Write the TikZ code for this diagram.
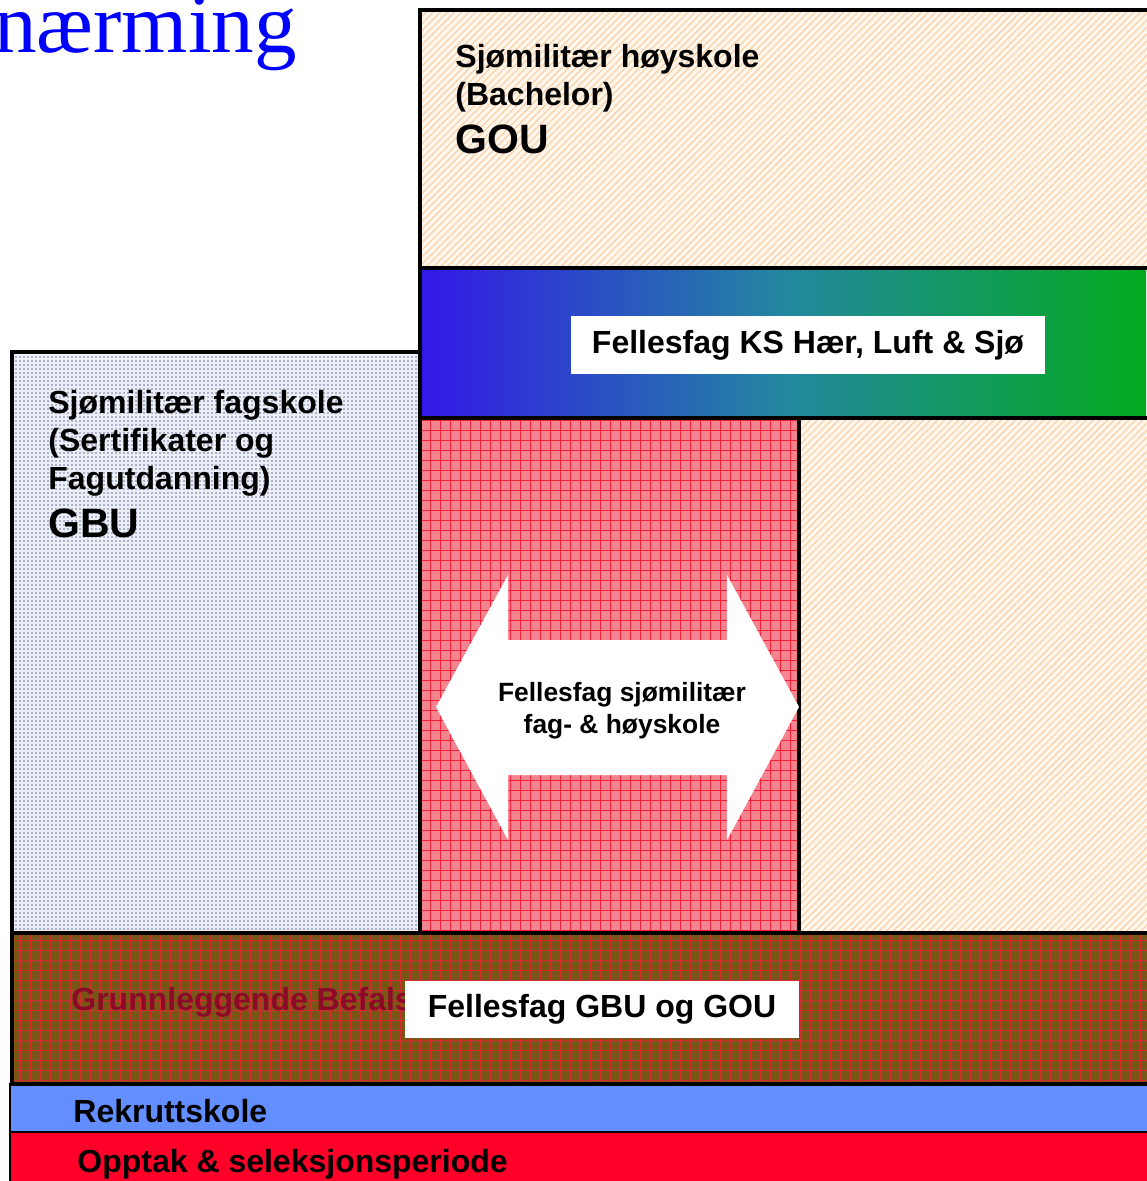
\documentclass[tikz,border=0pt]{standalone}
\usepackage{fontspec}
\setmainfont{Liberation Sans}
\newfontfamily\titlefont{Liberation Serif}
\usetikzlibrary{patterns.meta}

\definecolor{titleblue}{RGB}{0,0,255}
\definecolor{peach}{RGB}{255,246,236}
\definecolor{peachline}{RGB}{250,208,166}
\definecolor{dotback}{RGB}{236,239,246}
\definecolor{dotcol}{RGB}{105,115,165}
\definecolor{pinkback}{RGB}{244,132,144}
\definecolor{gridred}{RGB}{245,30,55}
\definecolor{olive}{RGB}{120,86,22}
\definecolor{befalred}{RGB}{140,10,40}
\definecolor{rekblue}{RGB}{98,142,255}
\definecolor{opptakred}{RGB}{255,0,40}
\definecolor{ksblue}{RGB}{51,24,232}
\definecolor{ksteal}{RGB}{35,135,160}
\definecolor{ksgreen}{RGB}{3,170,30}

\tikzset{
  frame/.style={line width=2pt},
  peachfill/.style={fill=peach,postaction={pattern={Lines[angle=45,distance=2.5pt,line width=0.6pt]},pattern color=peachline}},
  dotfill/.style={fill=dotback,postaction={pattern={Dots[distance=2pt,radius=0.4pt]},pattern color=dotcol}},
  redgrid/.style={#1,line width=0.3pt,step=5pt},
  heading/.style={inner sep=0,anchor=base west,align=left,font=\bfseries\fontsize{16}{19}\selectfont},
  bigtag/.style={inner sep=0,anchor=base west,font=\bfseries\fontsize{20.5}{24}\selectfont},
  whitebox/.style={fill=white,inner sep=0,font=\bfseries\fontsize{16}{19}\selectfont}
}

\begin{document}
\begin{tikzpicture}[x=0.5pt,y=-0.5pt]
\useasboundingbox (0,0) rectangle (1146,1181);

% title, cut off at the page edge
\node[inner sep=0,anchor=base west,text=titleblue,font=\titlefont\fontsize{42.5}{50}\selectfont] (title) at (-6,53) {nærming};

% blocks
\fill[peachfill] (420,10) rectangle (1160,268);
\shade[left color=ksblue,right color=ksgreen,middle color=ksteal] (420,268) rectangle (1146,418);
\fill[dotfill] (12,352) rectangle (420,933);
\fill[pinkback] (420,418) rectangle (799,933);
\draw[redgrid=gridred] (420,418) grid (799,933);
\fill[peachfill] (799,418) rectangle (1160,933);
\fill[olive] (12,933) rectangle (1160,1084);
\draw[redgrid=gridred!75!olive] (12,933) grid (1160,1084);
\fill[rekblue] (10,1084) rectangle (1160,1132);
\fill[opptakred] (10,1132) rectangle (1160,1190);

% borders
\draw[frame] (420,933) -- (420,10) -- (1160,10);
\draw[frame] (420,268) -- (1160,268);
\draw[frame] (420,418) -- (1160,418);
\draw[frame] (12,933) -- (12,352) -- (420,352);
\draw[frame] (799,418) -- (799,933);
\draw[frame] (12,933) rectangle (1160,1084);
\draw[line width=1pt] (10,1084) rectangle (1160,1132);
\draw[line width=1pt] (10,1132) -- (10,1190);

% double arrow
\fill[white] (436,707) -- (508,575) -- (508,640) -- (727,640) -- (727,575) -- (799,707)
  -- (727,840) -- (727,775) -- (508,775) -- (508,840) -- cycle;

% texts
\node[heading] (hoyskole) at (455,106) {Sjømilitær høyskole\\(Bachelor)};
\node[bigtag] (gou) at (455,154) {GOU};
\node[whitebox,minimum width=237pt,minimum height=29pt] (ksfag) at (808,345) {Fellesfag KS Hær, Luft \& Sjø};
\node[heading] (fagskole) at (48,489) {Sjømilitær fagskole\\(Sertifikater og\\Fagutdanning)};
\node[bigtag] (gbu) at (48,537) {GBU};
\node[align=center,inner sep=0,font=\bfseries\fontsize{13.2}{16}\selectfont] (arrowtext) at (622,711) {Fellesfag sjømilitær\\fag- \& høyskole};
\node[heading,text=befalred] (befal) at (71,1010) {Grunnleggende Befals};
\node[whitebox,minimum width=197pt,minimum height=28.5pt] (gbufag) at (602,1009.5) {Fellesfag GBU og GOU};
\node[heading] (rekrutt) at (73,1122) {Rekruttskole};
\node[heading] (opptak) at (77,1172) {Opptak \& seleksjonsperiode};

\end{tikzpicture}
\end{document}
